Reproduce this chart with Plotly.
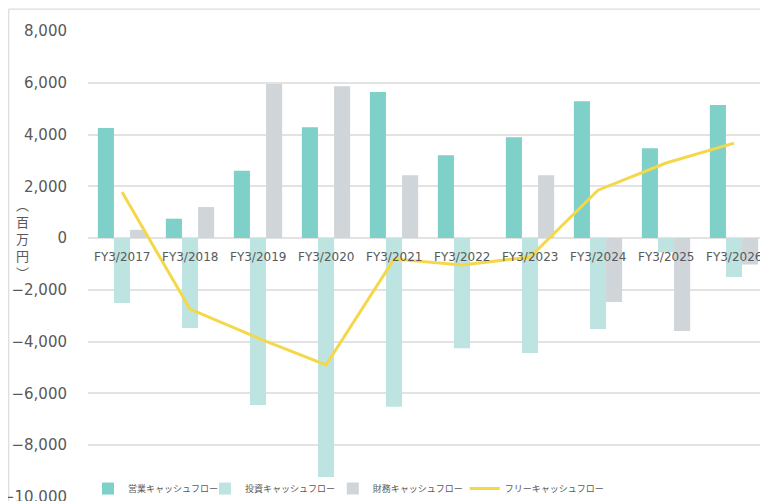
import plotly.graph_objects as go

categories = ["FY3/2017", "FY3/2018", "FY3/2019", "FY3/2020", "FY3/2021",
              "FY3/2022", "FY3/2023", "FY3/2024", "FY3/2025", "FY3/2026"]
operating_cf = [4250, 750, 2600, 4280, 5640, 3200, 3900, 5290, 3470, 5140]
investing_cf = [-2510, -3475, -6450, -9230, -6510, -4250, -4440, -3510, -550, -1500]
financing_cf = [320, 1200, 5950, 5870, 2430, 0, 2430, -2470, -3590, -1020]
free_cf = [1780, -2740, -3860, -4900, -810, -1040, -730, 1850, 2900, 3670]
y_ticks = [8000, 6000, 4000, 2000, 0, -2000, -4000, -6000, -8000, -10000]

series_names = ["営業キャッシュフロー", "投資キャッシュフロー", "財務キャッシュフロー", "フリーキャッシュフロー"]
colors = ["#7ed0c8", "#bde4e1", "#d0d5d9", "#f4d84a"]
legend_ids = ["legend", "legend2", "legend3", "legend4"]
legend_x = [0.0, 0.172, 0.36, 0.554]

text_color = "#595959"
font_family = "DejaVu Sans, Noto Sans CJK JP, sans-serif"

fig = go.Figure()
for name, vals, col, lg in zip(series_names[:3], [operating_cf, investing_cf, financing_cf],
                               colors[:3], legend_ids[:3]):
    fig.add_trace(go.Bar(x=categories, y=vals, name=name, legend=lg,
                         marker=dict(color=col, line=dict(width=0))))
fig.add_trace(go.Scatter(x=categories, y=free_cf, name=series_names[3], mode="lines",
                         legend=legend_ids[3], line=dict(color=colors[3], width=3)))

annotations = [dict(x=c, y=0, xref="x", yref="y", text=c, showarrow=False,
                    yanchor="middle", yshift=-19,
                    font=dict(size=12, color=text_color, family=font_family)) for c in categories]
annotations.append(dict(xref="paper", yref="paper", x=-0.097, y=0.555,
                        text="︵<br>百<br>万<br>円<br>︶", showarrow=False,
                        xanchor="center", yanchor="middle",
                        font=dict(size=13, color=text_color, family="Noto Sans CJK JP")))

legend_style = dict(orientation="h", y=-0.013, xanchor="left", yanchor="bottom",
                    bgcolor="rgba(0,0,0,0)",
                    font=dict(size=9, color=text_color, family="Noto Sans CJK JP"))
legends = {lg: dict(x=lx, **legend_style) for lg, lx in zip(legend_ids, legend_x)}

# page body has an 8px margin: figure sits at (8, 8)
fig.update_layout(
    width=760, height=493,
    margin=dict(l=80, r=0, t=23, b=4, autoexpand=False),
    paper_bgcolor="white", plot_bgcolor="white",
    barmode="group", bargap=0.29, bargroupgap=0,
    showlegend=True,
    xaxis=dict(showticklabels=False, showgrid=False, zeroline=False, showline=False, ticks="",
               automargin=False),
    yaxis=dict(range=[-10000, 8000], tickvals=y_ticks, tickformat=",", automargin=False,
               ticklabeloverflow="allow",
               showgrid=True, gridcolor="#e3e3e3", gridwidth=1.5,
               zeroline=True, zerolinecolor="#e3e3e3", zerolinewidth=1.5,
               showline=False, ticks="", ticklabelstandoff=20,
               tickfont=dict(size=15, color=text_color, family=font_family)),
    annotations=annotations,
    shapes=[dict(type="rect", xref="paper", yref="paper", x0=-0.1165, x1=1.05, y0=-0.2, y1=1.047,
                 line=dict(color="#d4d4d4", width=1), fillcolor="rgba(0,0,0,0)", layer="below")],
    **legends,
)

fig.write_html("out.html")
